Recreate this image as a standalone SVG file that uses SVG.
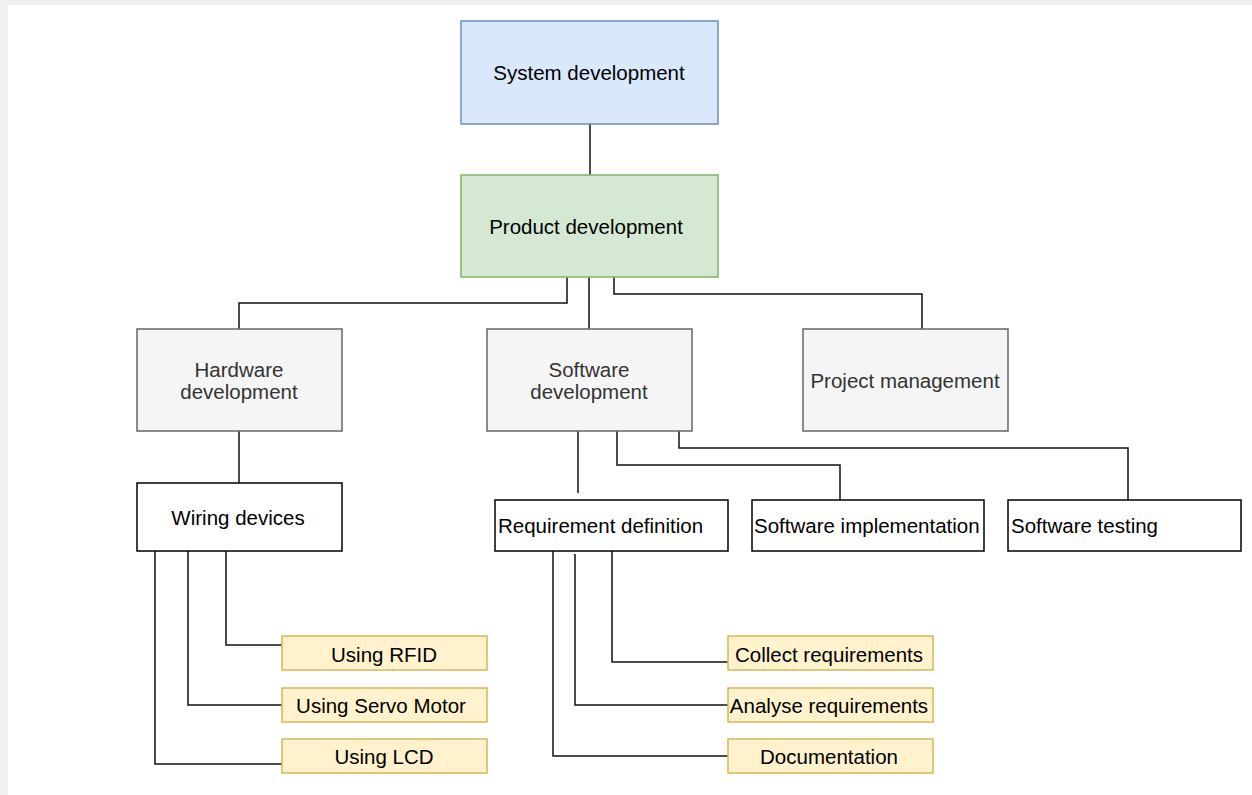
<svg xmlns="http://www.w3.org/2000/svg" width="1252" height="795" viewBox="0 0 1252 795">
<style>
text{font-family:"Liberation Sans",Arial,sans-serif;font-size:20.5px;text-anchor:middle;dominant-baseline:central;fill:#000}
.blue{fill:#dae8fc;stroke:#6c8ebf;stroke-width:1.5}
.green{fill:#d5e8d4;stroke:#82b366;stroke-width:1.5}
.gray{fill:#f5f5f5;stroke:#666;stroke-width:1.5}
.gt{fill:#333}
.plain{fill:#fff;stroke:#000;stroke-width:1.5}
.yel{fill:#fff2cc;stroke:#d6b656;stroke-width:1.5}
.conn path{fill:none;stroke:#111;stroke-width:1.5}
.l{text-anchor:start}
</style>
<rect x="0" y="0" width="1252" height="795" fill="#fff"/>
<rect x="0" y="0" width="1252" height="5" fill="#f0f0f0"/>
<rect x="0" y="0" width="8" height="795" fill="#f0f0f0"/>
<g class="conn">
<path d="M590 124V175"/>
<path d="M567 277V303H239V329"/>
<path d="M589 277V329"/>
<path d="M614 277V294H922V329"/>
<path d="M239 431V483"/>
<path d="M578 431V493"/>
<path d="M617 431V465H840V500"/>
<path d="M679 431V448H1128V500"/>
<path d="M226 551V645H282"/>
<path d="M188 551V705H282"/>
<path d="M155 551V764H282"/>
<path d="M612 551V662H728"/>
<path d="M575 554V705H728"/>
<path d="M553 551V756H728"/>
</g>
<g id="system"><rect class="blue" x="461" y="21" width="257" height="103"/><text x="589" y="72">System development</text></g>
<g id="product"><rect class="green" x="461" y="175" width="257" height="102"/><text x="586" y="226">Product development</text></g>
<g id="hardware"><rect class="gray" x="137" y="329" width="205" height="102"/><text class="gt" x="239" y="369">Hardware</text><text class="gt" x="239" y="391">development</text></g>
<g id="software"><rect class="gray" x="487" y="329" width="205" height="102"/><text class="gt" x="589" y="369">Software</text><text class="gt" x="589" y="391">development</text></g>
<g id="project"><rect class="gray" x="803" y="329" width="205" height="102"/><text class="gt" x="905" y="380">Project management</text></g>
<g id="wiring"><rect class="plain" x="137" y="483" width="205" height="68"/><text x="238" y="517">Wiring devices</text></g>
<g id="reqdef"><rect class="plain" x="495" y="500" width="233" height="51"/><text class="l" x="498" y="525">Requirement definition</text></g>
<g id="impl"><rect class="plain" x="752" y="500" width="232" height="51"/><text class="l" x="754" y="525">Software implementation</text></g>
<g id="testing"><rect class="plain" x="1008" y="500" width="233" height="51"/><text class="l" x="1011" y="525">Software testing</text></g>
<g id="rfid"><rect class="yel" x="282" y="636" width="205" height="34"/><text x="384" y="654">Using RFID</text></g>
<g id="servo"><rect class="yel" x="282" y="688" width="205" height="34"/><text x="381" y="705">Using Servo Motor</text></g>
<g id="lcd"><rect class="yel" x="282" y="739" width="205" height="34"/><text x="384" y="756">Using LCD</text></g>
<g id="collect"><rect class="yel" x="728" y="636" width="205" height="34"/><text x="829" y="654">Collect requirements</text></g>
<g id="analyse"><rect class="yel" x="728" y="688" width="205" height="34"/><text x="829" y="705">Analyse requirements</text></g>
<g id="doc"><rect class="yel" x="728" y="739" width="205" height="34"/><text x="829" y="756">Documentation</text></g>
</svg>
